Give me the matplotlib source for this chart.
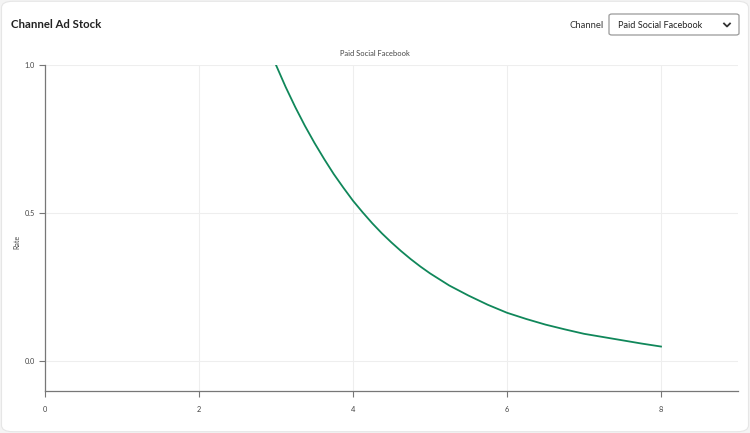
import matplotlib.pyplot as plt
from matplotlib.patches import FancyBboxPatch

# values
lag = [3.0, 3.125, 3.25, 3.375, 3.5, 3.625, 3.75, 3.875, 4.0, 4.125, 4.25, 4.375,
       4.5, 4.625, 4.75, 4.875, 5.0, 5.25, 5.5, 5.75, 6.0, 6.25, 6.5, 6.75,
       7.0, 7.25, 7.5, 7.75, 8.0]
rate = [1.000, 0.926, 0.858, 0.795, 0.737, 0.683, 0.632, 0.586, 0.542, 0.503, 0.466, 0.432,
        0.401, 0.372, 0.345, 0.320, 0.297, 0.256, 0.222, 0.191, 0.164, 0.143, 0.124, 0.108,
        0.093, 0.082, 0.071, 0.060, 0.050]
x_ticks = [0, 2, 4, 6, 8]
y_ticks = [0.0, 0.5, 1.0]
channel = "Paid Social Facebook"

plt.rcParams['font.family'] = ['Lato', 'DejaVu Sans']

fig = plt.figure(figsize=(7.5, 4.33), dpi=100)
fig.patch.set_facecolor("#f4f4f4")

# card background
card = FancyBboxPatch((0.002, 0.003), 0.996, 0.994, boxstyle="round,pad=0,rounding_size=0.015",
                      transform=fig.transFigure, facecolor="white", edgecolor="#e6e6e6",
                      linewidth=0.8, zorder=-2)
fig.patches.append(card)

fig.text(11 / 750, 1 - 25 / 433, "Channel Ad Stock", fontsize=8.2, fontweight="bold",
         color="#222222", va="center", ha="left")
fig.text(604 / 750, 1 - 25 / 433, "Channel", fontsize=6.8, color="#333333", va="center", ha="right")

# dropdown box
box = FancyBboxPatch((609 / 750, 1 - 35 / 433), 130 / 750, 21 / 433,
                     boxstyle="round,pad=0,rounding_size=0.004", transform=fig.transFigure,
                     facecolor="white", edgecolor="#9a9a9a", linewidth=0.9, zorder=-1)
fig.patches.append(box)
fig.text(618 / 750, 1 - 25 / 433, channel, fontsize=6.6, color="#222222", va="center", ha="left")
fig.lines.append(plt.Line2D([724 / 750, 727 / 750, 730 / 750],
                            [1 - 23.5 / 433, 1 - 26.5 / 433, 1 - 23.5 / 433],
                            transform=fig.transFigure, color="#333333", linewidth=1.3))

# chart title sits at the centre of the card
fig.text(0.5, 1 - 53 / 433, channel, fontsize=5.4, color="#444444", va="center", ha="center")

ax = fig.add_axes([45 / 750, 1 - 391 / 433, 693 / 750, 326 / 433])
ax.patch.set_alpha(0)
ax.plot(lag, rate, color="#10875a", linewidth=1.3)
ax.set_xlim(0, 9)
ax.set_ylim(-0.1, 1.0)
ax.set_xticks(x_ticks)
ax.set_yticks(y_ticks)
ax.set_yticklabels(["%.1f" % v for v in y_ticks])
ax.set_ylabel("Rate", fontsize=5, color="#444444")
ax.yaxis.set_label_coords(-0.036, 0.457)
ax.grid(True, color="#eeeeee", linewidth=0.8)
ax.set_axisbelow(True)
for s in ["top", "right"]:
    ax.spines[s].set_visible(False)
for s in ["left", "bottom"]:
    ax.spines[s].set_color("#777777")
    ax.spines[s].set_linewidth(0.9)
ax.tick_params(axis="both", labelsize=5.3, labelcolor="#444444", color="#777777",
               length=4.5, width=0.8, pad=3)
ax.tick_params(axis="x", pad=6)

fig.savefig("out.png", dpi=100)
